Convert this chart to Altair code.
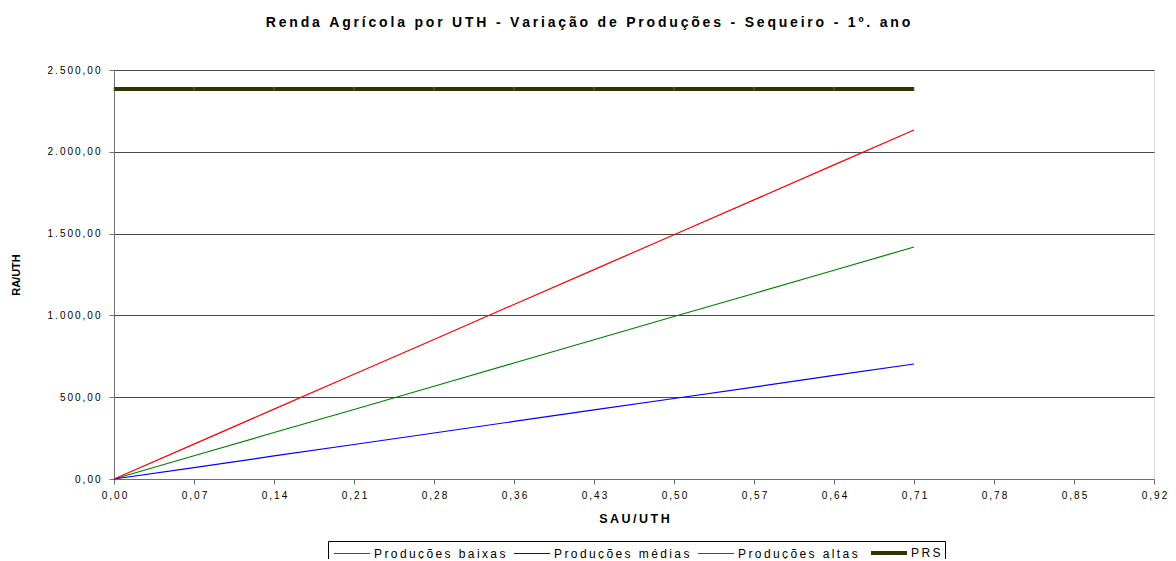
import altair as alt
import pandas as pd

TS = "\u2009"  # thin space used for letter spacing


def sp(s):
    return TS.join(list(s))


# ---- data ----
sau_uth = [0.0, 0.0711, 0.1422, 0.2133, 0.2844, 0.3555, 0.4266, 0.4977, 0.5688, 0.6399, 0.711]
prod_baixas = [0, 142, 284, 425, 567, 709, 851, 993, 1134, 1276, 1418]
prod_medias = [0, 70, 141, 211, 281, 352, 422, 492, 562, 633, 703]
prod_altas = [0, 213, 427, 640, 853, 1067, 1280, 1493, 1706, 1920, 2133]
prs = [2384, 2384, 2384, 2384, 2384, 2384, 2384, 2384, 2384, 2384, 2384]

series_names = ["Produções baixas", "Produções médias", "Produções altas", "PRS"]
series_colors = ["#008000", "#0000FF", "#FF0000", "#333300"]
series_widths = [1.2, 1.2, 1.2, 4]
legend_widths = [1.6, 1.6, 1.6, 4]

x_tick_values = [0.0, 0.0711, 0.1422, 0.2133, 0.2844, 0.3555, 0.4266, 0.4977,
                 0.5688, 0.6399, 0.711, 0.7821, 0.8532, 0.9243]
x_tick_labels = ["0,00", "0,07", "0,14", "0,21", "0,28", "0,36", "0,43", "0,50",
                 "0,57", "0,64", "0,71", "0,78", "0,85", "0,92"]
y_tick_values = [0, 500, 1000, 1500, 2000, 2500]
y_tick_labels = ["0,00", "500,00", "1.000,00", "1.500,00", "2.000,00", "2.500,00"]

rows = []
for name, vals in zip(series_names, [prod_baixas, prod_medias, prod_altas, prs]):
    for x, v in zip(sau_uth, vals):
        rows.append({"x": x, "y": v, "serie": sp(name)})
df = pd.DataFrame(rows)

legend_domain = [sp(n) for n in series_names]

x_expr = "[" + ",".join("'" + sp(l) + "'" for l in x_tick_labels) + "][round(datum.value/0.0711)]"
y_expr = "[" + ",".join("'" + sp(l) + "'" for l in y_tick_labels) + "][round(datum.value/500)]"
name_list = "[" + ",".join("'" + n + "'" for n in legend_domain) + "]"
color_list = "[" + ",".join("'" + c + "'" for c in series_colors) + "]"
width_list = "[" + ",".join(str(w) for w in legend_widths) + "]"
legend_color_expr = color_list + "[indexof(" + name_list + ", datum.value)]"
legend_width_expr = width_list + "[indexof(" + name_list + ", datum.value)]"

FONT = "Liberation Sans"
GRID = "#4a4a4a"
AXC = "#707070"

base = alt.Chart(df)

lines = base.mark_line(strokeCap="butt").encode(
    x=alt.X("x:Q",
            scale=alt.Scale(domain=[0, 0.9243], nice=False, zero=False),
            axis=alt.Axis(values=x_tick_values, labelExpr=x_expr, title=sp("SAU/UTH"),
                          grid=False, tickSize=5, labelPadding=6, titlePadding=12,
                          labelFlush=False, labelOverlap=False,
                          titleFontSize=12.5,
                          domainColor=AXC, tickColor=AXC)),
    y=alt.Y("y:Q",
            scale=alt.Scale(domain=[0, 2500], nice=False),
            axis=alt.Axis(values=y_tick_values, labelExpr=y_expr, title="RA/UTH",
                          grid=True, gridColor=GRID, gridOpacity=1, gridWidth=1,
                          tickSize=5, labelPadding=9, titleX=-93,
                          labelOverlap=False, domainColor=AXC, tickColor=AXC)),
    color=alt.Color("serie:N", scale=alt.Scale(domain=legend_domain, range=series_colors),
                    legend=alt.Legend(
                        title=None, orient="none", legendX=214, legendY=471,
                        direction="horizontal", columns=4,
                        symbolType="M-1,0H5", symbolSize=144,
                        symbolStrokeWidth=alt.ExprRef(legend_width_expr),
                        symbolStrokeColor=alt.ExprRef(legend_color_expr),
                        symbolFillColor="transparent", symbolOpacity=1,
                        strokeColor="black", padding=4,
                        labelFont=FONT, labelFontSize=12, labelColor="black",
                        columnPadding=5, labelOffset=26)),
    strokeWidth=alt.StrokeWidth("serie:N",
                                scale=alt.Scale(type="ordinal", domain=legend_domain, range=series_widths),
                                legend=None),
    order=alt.Order("x:Q"),
)

ticks = alt.Chart(df[df["serie"] == sp("PRS")]).mark_tick(
    orient="vertical", color="#77774d", size=4, thickness=1
).encode(x="x:Q", y="y:Q")

chart = (lines + ticks).properties(
    width=1040, height=409,
    title=alt.TitleParams(sp("Renda Agrícola por UTH - Variação de Produções - Sequeiro - 1º. ano"),
                          font=FONT, fontSize=14, fontWeight="bold", color="black",
                          offset=35, anchor="middle", dx=-46),
    autosize=alt.AutoSizeParams(type="none"),
    padding={"left": 106, "top": 62, "right": 14, "bottom": 80},
).configure_view(stroke=None).configure_axis(
    labelFont=FONT, labelFontSize=12, labelColor="black",
    titleFont=FONT, titleFontSize=12, titleFontWeight="bold", titleColor="black",
    domainWidth=1, tickWidth=1,
).configure(background="white")

chart.save("out.html", embed_options={"renderer": "svg", "actions": False})
